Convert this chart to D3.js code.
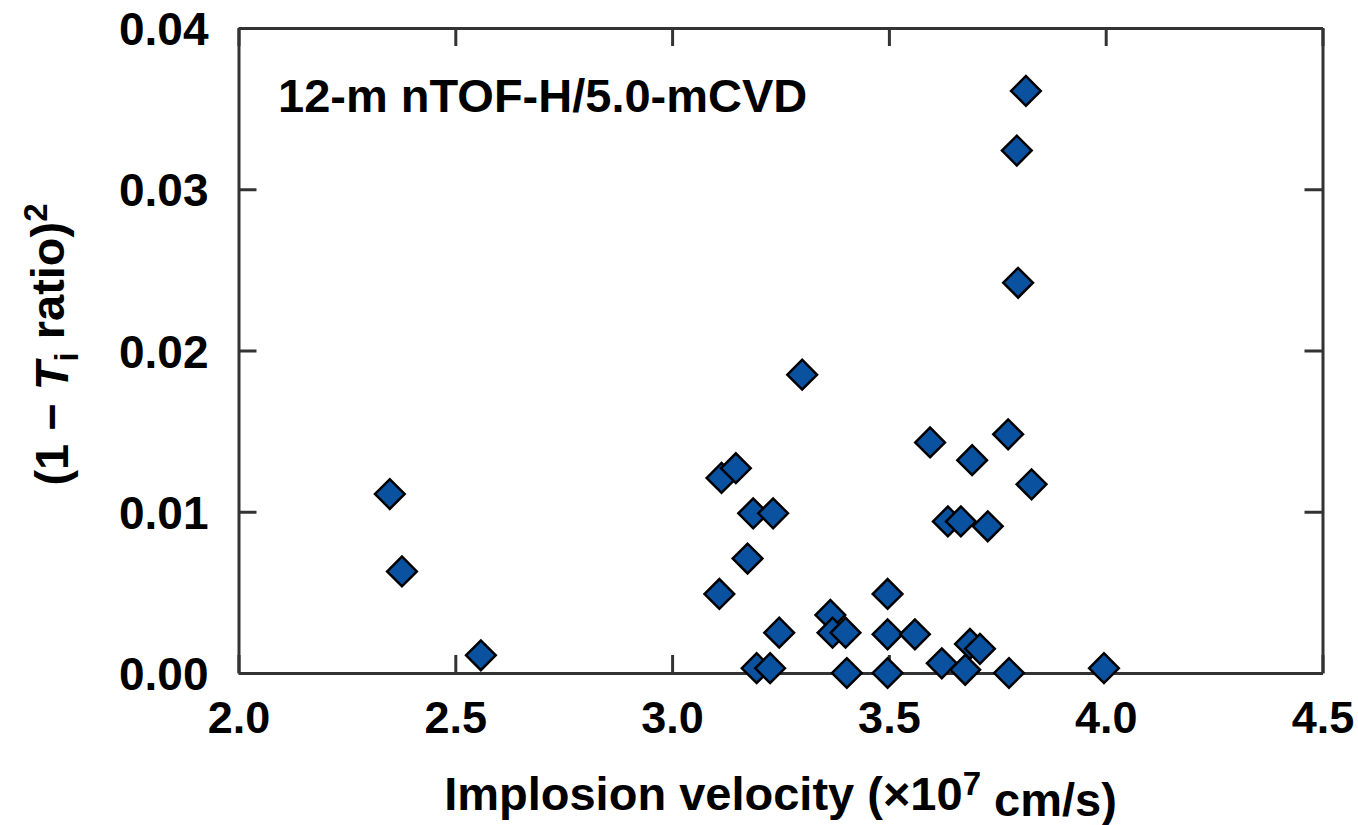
<!DOCTYPE html>
<html>
<head>
<meta charset="utf-8">
<script src="https://cdn.jsdelivr.net/npm/d3@7"></script>
<style>
  body { margin: 0; background: #fff; }
  text { font-family: "Liberation Sans", Arial, Helvetica, sans-serif; font-weight: bold; fill: #000; }
</style>
</head>
<body>
<svg id="chart" width="1358" height="825"></svg>
<script>
// ---- data ----
const velocity = [2.349, 2.377, 2.559, 3.109, 3.114, 3.147, 3.187, 3.233, 3.174, 3.247, 3.195, 3.226,
  3.300, 3.365, 3.370, 3.400, 3.403, 3.497, 3.497, 3.497, 3.560, 3.595, 3.692, 3.636, 3.666, 3.728,
  3.622, 3.676, 3.775, 3.829, 3.687, 3.710, 3.777, 3.996, 3.816, 3.795, 3.798];
const tiRatioSq = [0.0111, 0.0063, 0.0011, 0.0049, 0.0121, 0.0127, 0.0099, 0.0099, 0.0071, 0.0025, 0.0003, 0.0003,
  0.0185, 0.0036, 0.0025, 0.0025, 0.0000, 0.0049, 0.0024, 0.0000, 0.0024, 0.0143, 0.0132, 0.0094, 0.0094, 0.0091,
  0.0006, 0.0002, 0.0148, 0.0117, 0.0018, 0.0015, 0.0000, 0.0003, 0.0361, 0.0324, 0.0242];
const xTicks = [2.0, 2.5, 3.0, 3.5, 4.0, 4.5];
const yTicks = [0.00, 0.01, 0.02, 0.03, 0.04];
const xDomain = [2.0, 4.5];
const yDomain = [0, 0.04];
const annotation = "12-m nTOF-H/5.0-mCVD";

// ---- layout ----
const svg = d3.select("#chart");
const L = 238.5, R = 1322.5, T = 28, B = 673;
const x = d3.scaleLinear().domain(xDomain).range([L, R]);
const y = d3.scaleLinear().domain(yDomain).range([B, T]);
const axisColor = "#333";
const tickLen = 18;

function styleAxis(g) {
  g.selectAll("path.domain").attr("stroke", axisColor).attr("stroke-width", 3);
  g.selectAll(".tick line").attr("stroke", axisColor).attr("stroke-width", 3);
  g.selectAll(".tick text").attr("fill", "#000")
    .style("font-family", '"Liberation Sans", Arial, sans-serif')
    .style("font-weight", "bold");
}

// bottom
svg.append("g").attr("transform", `translate(0,${B})`)
  .call(d3.axisBottom(x).tickValues(xTicks).tickFormat(d3.format(".1f"))
    .tickSizeInner(-tickLen).tickSizeOuter(0).tickPadding(28))
  .call(styleAxis)
  .call(g => g.selectAll(".tick text").style("font-size", "45px"));
// top
svg.append("g").attr("transform", `translate(0,${T})`)
  .call(d3.axisTop(x).tickValues(xTicks).tickFormat("")
    .tickSizeInner(-tickLen).tickSizeOuter(0))
  .call(styleAxis);
// left
svg.append("g").attr("transform", `translate(${L},0)`)
  .call(d3.axisLeft(y).tickValues(yTicks).tickFormat(d3.format(".2f"))
    .tickSizeInner(-tickLen).tickSizeOuter(0).tickPadding(30))
  .call(styleAxis)
  .call(g => g.selectAll(".tick text").style("font-size", "46px").attr("dy", "0.36em"));
// right
svg.append("g").attr("transform", `translate(${R},0)`)
  .call(d3.axisRight(y).tickValues(yTicks).tickFormat("")
    .tickSizeInner(-tickLen).tickSizeOuter(0))
  .call(styleAxis);

// ---- points ----
const pts = velocity.map((v, i) => ({ v, r: tiRatioSq[i] }));
const diamond = d3.symbol().type(d3.symbolSquare).size(21 * 21);
svg.append("g").selectAll("path").data(pts).join("path")
  .attr("d", diamond)
  .attr("transform", d => `translate(${x(d.v)},${y(d.r)}) rotate(45)`)
  .attr("fill", "#0a52a0")
  .attr("stroke", "#000")
  .attr("stroke-width", 2.5);

// ---- annotation ----
svg.append("text").attr("x", 278).attr("y", 112)
  .style("font-size", "47px").text(annotation);

// ---- x title ----
const xt = svg.append("text").attr("x", (L + R) / 2).attr("y", 810)
  .attr("text-anchor", "middle").style("font-size", "47px");
xt.append("tspan").text("Implosion velocity (\u00d710");
xt.append("tspan").attr("dy", "-0.45em").style("font-size", "33px").text("7");
xt.append("tspan").attr("dy", "0.45em").text(" cm/s)");

// ---- y title ----
const yt = svg.append("text")
  .attr("transform", `translate(68,${(T + B) / 2 - 6}) rotate(-90)`)
  .attr("text-anchor", "middle").style("font-size", "47px");
yt.append("tspan").text("(1 \u2212 ");
yt.append("tspan").style("font-style", "italic").text("T");
yt.append("tspan").attr("dy", "0.3em").style("font-size", "33px").text("i");
yt.append("tspan").attr("dy", "-0.3em").text(" ratio)");
yt.append("tspan").attr("dy", "-0.5em").style("font-size", "33px").text("2");
</script>
</body>
</html>
